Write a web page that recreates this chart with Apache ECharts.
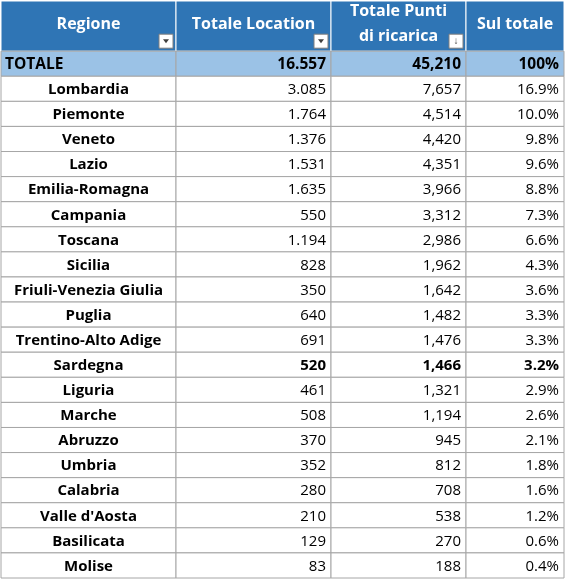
<!DOCTYPE html>
<html><head><meta charset="utf-8">
<script src="https://cdn.jsdelivr.net/npm/echarts@6/dist/echarts.min.js"></script>
<style>html,body{margin:0;padding:0;background:#fff}#c{width:565px;height:579px}</style>
</head><body><div id="c"></div>
<script>
const headers = ['Regione', 'Totale Location', 'Totale Punti\ndi ricarica', 'Sul totale'];
const regions = ['TOTALE','Lombardia','Piemonte','Veneto','Lazio','Emilia-Romagna','Campania','Toscana','Sicilia','Friuli-Venezia Giulia','Puglia','Trentino-Alto Adige','Sardegna','Liguria','Marche','Abruzzo','Umbria','Calabria',"Valle d'Aosta",'Basilicata','Molise'];
const locations = ['16.557','3.085','1.764','1.376','1.531','1.635','550','1.194','828','350','640','691','520','461','508','370','352','280','210','129','83'];
const punti = ['45,210','7,657','4,514','4,420','4,351','3,966','3,312','2,986','1,962','1,642','1,482','1,476','1,466','1,321','1,194','945','812','708','538','270','188'];
const share = ['100%','16.9%','10.0%','9.8%','9.6%','8.8%','7.3%','6.6%','4.3%','3.6%','3.3%','3.3%','3.2%','2.9%','2.6%','2.1%','1.8%','1.6%','1.2%','0.6%','0.4%'];
const colEdges = [0, 175, 330, 465, 563];
const boldRows = ['TOTALE', 'Sardegna'];

const cells = [];
headers.forEach((h, c) => cells.push([c, -1, h]));
regions.forEach((r, i) => {
  [r, locations[i], punti[i], share[i]].forEach((v, c) => cells.push([c, i, v]));
});

function renderItem(params, api) {
  const c = api.value(0), r = api.value(1), txt = cells[params.dataIndex][2];
  const top = r < 0 ? 0 : r + 2, bot = r < 0 ? 2 : r + 3;
  const p0 = api.coord([colEdges[c], top]);
  const p1 = api.coord([colEdges[c + 1], bot]);
  const x = p0[0], y = p0[1], w = p1[0] - p0[0], h = p1[1] - p0[1];
  const header = r < 0, total = r === 0;
  const bold = header || boldRows.includes(regions[r]) || c === 0;
  const fill = header ? '#2F75B5' : (total ? '#9BC2E6' : '#ffffff');
  const children = [{
    type: 'rect', shape: {x, y, width: w, height: h},
    style: {fill, stroke: header ? '#ffffff' : '#A6A6A6', lineWidth: 1}
  }];
  let align = 'right', tx = x + w - 5;
  if (c === 0 && !total) { align = 'center'; tx = x + w / 2; }
  if (c === 0 && total) { align = 'left'; tx = x + 4; }
  if (header) { align = 'center'; tx = x + w / 2; }
  children.push({
    type: 'text',
    style: {
      x: tx, y: header ? y + h / 2 - 2 : y + h / 2 + 1, text: txt, align, verticalAlign: 'middle',
      fill: header ? '#ffffff' : '#000000',
      font: (bold ? 'bold ' : '') + (header ? '16px' : (total ? '15.5px' : '15px')) + ' "Open Sans", sans-serif',
      lineHeight: 25
    }
  });
  if (header && c < 3) {
    const bx = x + w - 17, by = y + h - 17;
    children.push({type: 'rect', shape: {x: bx, y: by, width: 14, height: 14}, style: {fill: '#ffffff', stroke: '#7F7F7F', lineWidth: 1}});
    if (c < 2) children.push({type: 'polygon', shape: {points: [[bx + 4, by + 5], [bx + 10, by + 5], [bx + 7, by + 9]]}, style: {fill: '#404040'}});
    else children.push({type: 'text', style: {x: bx + 7, y: by + 7, text: '↓', align: 'center', verticalAlign: 'middle', fill: '#404040', font: 'bold 10px sans-serif'}});
  }
  return {type: 'group', children};
}

const chart = echarts.init(document.getElementById('c'));
chart.setOption({
  animation: false,
  grid: {left: 1, right: 1, top: 1, bottom: 1},
  xAxis: {type: 'value', min: 0, max: 563, show: false},
  yAxis: {type: 'value', min: 0, max: 23, inverse: true, show: false},
  series: [{type: 'custom', renderItem, data: cells.map(d => [d[0], d[1]]), encode: {x: 0, y: 1}}]
});
</script></body></html>
